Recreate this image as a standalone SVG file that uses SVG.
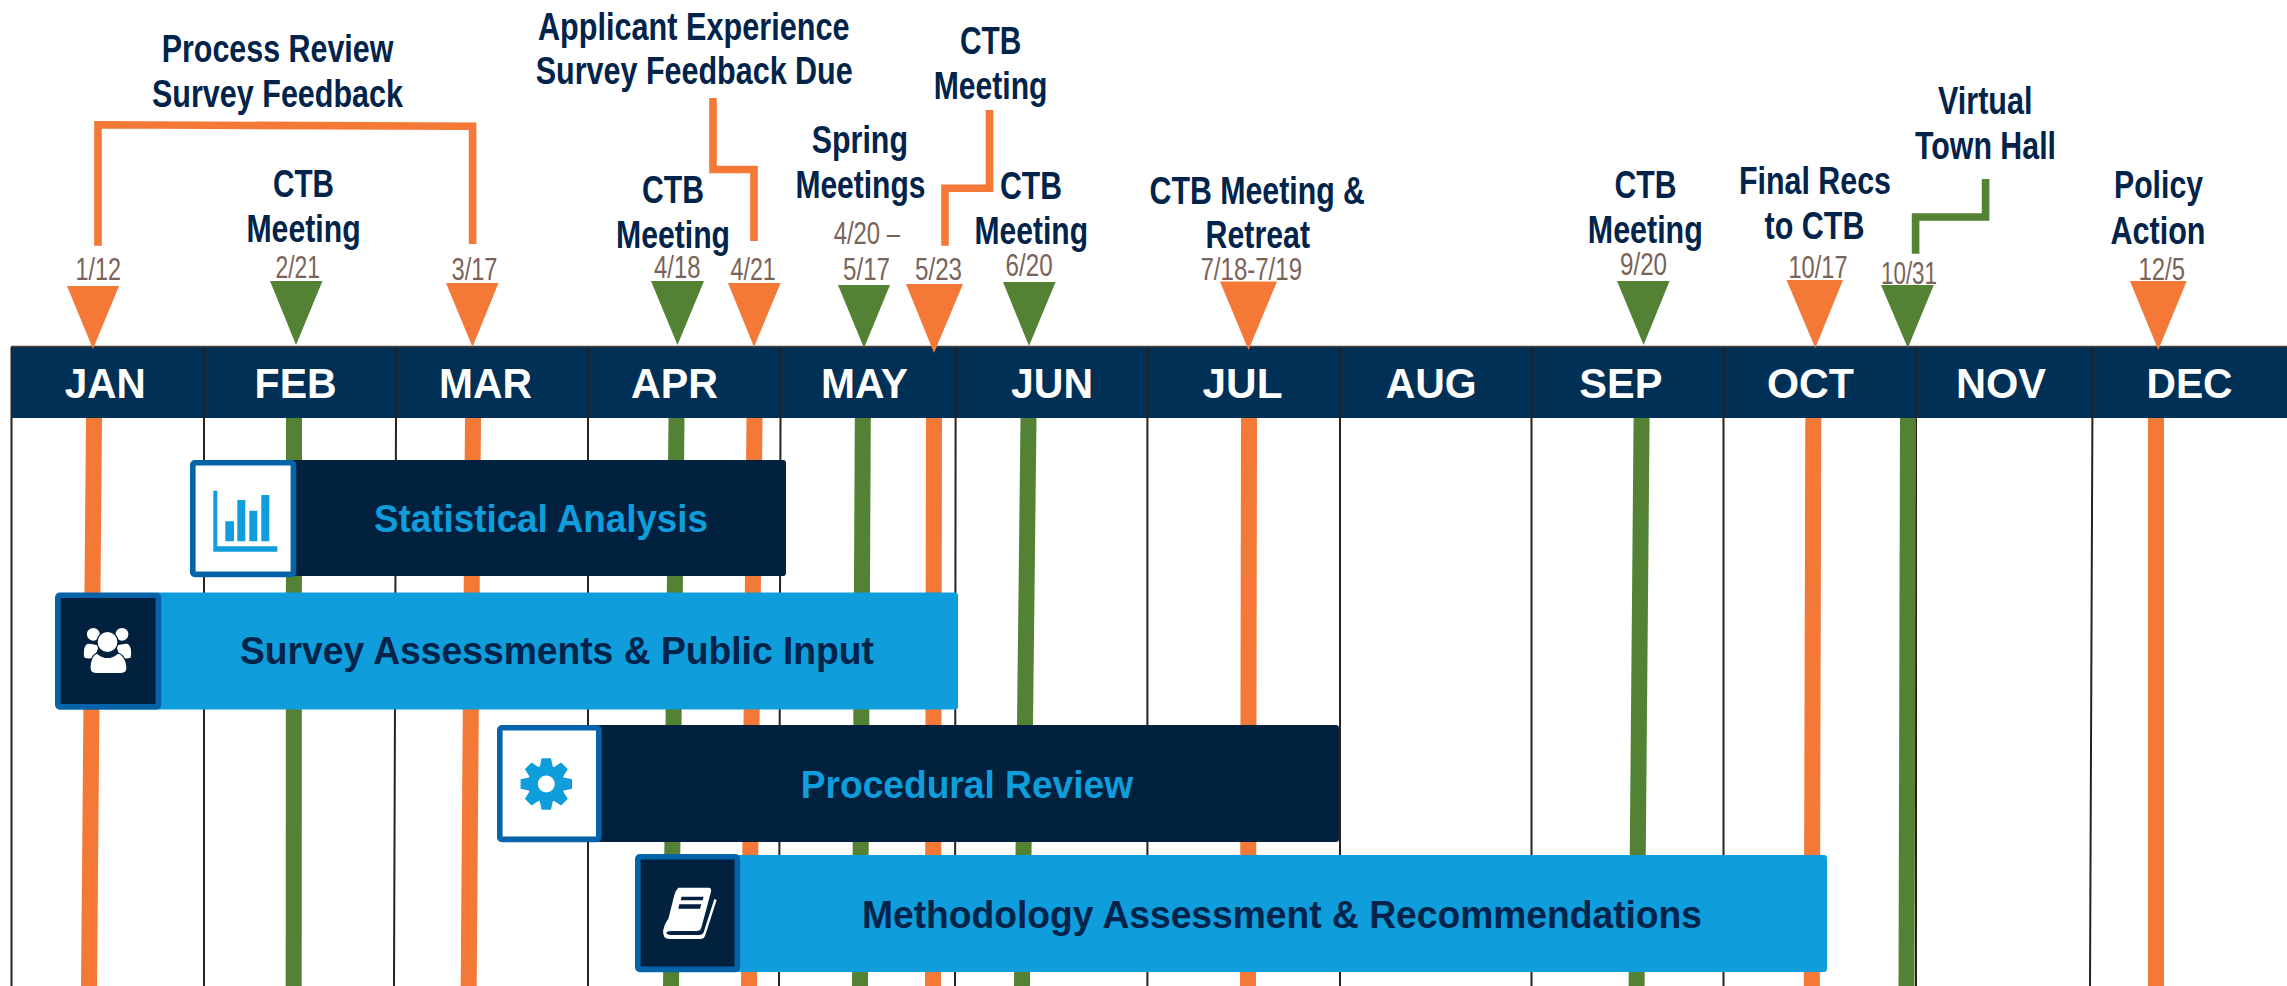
<svg xmlns="http://www.w3.org/2000/svg" xmlns:xlink="http://www.w3.org/1999/xlink" width="2287" height="986" viewBox="0 0 2287 986">
<style>
text{font-family:"Liberation Sans",Arial,sans-serif}
.lab{font-size:39px;font-weight:700;fill:#02234a;transform:translateY(1px)}
.date{font-size:31px;fill:#7a6358;transform:translateY(1px)}
.mon{font-size:43px;font-weight:700;fill:#fff}
.bt{font-size:38px;font-weight:700;transform:translateY(1px)}
.grid{stroke:#2b2118;stroke-width:2;fill:none}
.o{fill:#f47836}.g{fill:#548235}
.ob{stroke:#f47836;stroke-width:16;fill:none}.gb{stroke:#548235;stroke-width:16;fill:none}
.ol{stroke:#f47836;stroke-width:7.6;fill:none}.gl{stroke:#548235;stroke-width:7.6;fill:none}
.dark{fill:#02213f}.blue{fill:#0f9ddb}
.frame{stroke:#0563a9;stroke-width:5.6}
</style>
<defs>
<path id="tooth" d="M-4.7-25.7H4.7L7-15H-7Z" fill="#0f9ddb"/>
</defs>
<rect width="2287" height="986" fill="#fff"/>
<g id="grid">
<path class="grid" d="M11.5 347V986M204 418V986M396 418L394 986M588 418V986M780.5 418L779 986M955.6 418L955 986M1147.4 418V986M1340 418V986M1531.5 418V986M1723.5 418V986M1916 418V986M2092.4 418L2090 986"/>
</g>
<g id="connectors">
<path class="ob" d="M94 418L89 986"/>
<path class="gb" d="M294 418L293.7 986"/>
<path class="ob" d="M473 418L468.7 986"/>
<path class="gb" d="M676.5 418L671 986"/>
<path class="ob" d="M754.5 418L749 986"/>
<path class="gb" d="M862.8 418L860 986"/>
<path class="ob" d="M934 418L933 986"/>
<path class="gb" d="M1028.5 418L1022 986"/>
<path class="ob" d="M1249 418L1248 986"/>
<path class="gb" d="M1641.6 418L1636.6 986"/>
<path class="ob" d="M1813.3 418L1811.8 986"/>
<path class="gb" d="M1908 418L1906.5 986"/>
<path class="ob" d="M2156 418V986"/>
<path class="ol" d="M98 245.7V124.8L472.6 126.3V244"/>
<path class="ol" d="M713 98V169.5H754V241"/>
<path class="ol" d="M989.5 110V188.2H945V245.7"/>
<path class="gl" d="M1985.6 179V217H1915.6V253.7"/>
</g>
<g id="header">
<rect x="11" y="347" width="2276" height="71" fill="#003056"/>
<path d="M11 346.5H2287" stroke="#4a4038" stroke-width="1.5"/>
<path class="grid" d="M204 347V418M396 347V418M588 347V418M780.5 347V418M955.6 347V418M1147.4 347V418M1340 347V418M1531.5 347V418M1723.5 347V418M1916 347V418M2092.4 347V418"/>
<text class="mon" x="64.8" y="398" textLength="81" lengthAdjust="spacingAndGlyphs">JAN</text>
<text class="mon" x="254.6" y="398" textLength="82" lengthAdjust="spacingAndGlyphs">FEB</text>
<text class="mon" x="439" y="398" textLength="93" lengthAdjust="spacingAndGlyphs">MAR</text>
<text class="mon" x="631" y="398" textLength="87" lengthAdjust="spacingAndGlyphs">APR</text>
<text class="mon" x="821" y="398" textLength="87" lengthAdjust="spacingAndGlyphs">MAY</text>
<text class="mon" x="1011" y="398" textLength="82" lengthAdjust="spacingAndGlyphs">JUN</text>
<text class="mon" x="1202.5" y="398" textLength="80" lengthAdjust="spacingAndGlyphs">JUL</text>
<text class="mon" x="1385.7" y="398" textLength="91" lengthAdjust="spacingAndGlyphs">AUG</text>
<text class="mon" x="1579.3" y="398" textLength="83" lengthAdjust="spacingAndGlyphs">SEP</text>
<text class="mon" x="1767" y="398" textLength="87" lengthAdjust="spacingAndGlyphs">OCT</text>
<text class="mon" x="1956" y="398" textLength="90" lengthAdjust="spacingAndGlyphs">NOV</text>
<text class="mon" x="2146.5" y="398" textLength="86" lengthAdjust="spacingAndGlyphs">DEC</text>
</g>
<g id="m-0112"><polygon class="o" points="67,286 119,286 93,349"/><text class="date" x="75.5" y="279" textLength="45.5" lengthAdjust="spacingAndGlyphs">1/12</text></g>
<g id="m-process"><text class="lab" x="161.7" y="61" textLength="231.7" lengthAdjust="spacingAndGlyphs">Process Review</text><text class="lab" x="152" y="106" textLength="251" lengthAdjust="spacingAndGlyphs">Survey Feedback</text></g>
<g id="m-0221"><polygon class="g" points="270,281 322.5,281 296,345"/><text class="date" x="275.5" y="276.7" textLength="44.5" lengthAdjust="spacingAndGlyphs">2/21</text><text class="lab" x="273" y="195.7" textLength="61" lengthAdjust="spacingAndGlyphs">CTB</text><text class="lab" x="246.4" y="240.7" textLength="114.3" lengthAdjust="spacingAndGlyphs">Meeting</text></g>
<g id="m-0317"><polygon class="o" points="446,283 498.5,283 472.5,347"/><text class="date" x="451.5" y="278.7" textLength="46" lengthAdjust="spacingAndGlyphs">3/17</text></g>
<g id="m-0418"><polygon class="g" points="651,281 704,281 677.5,345"/><text class="date" x="654" y="276.7" textLength="46.5" lengthAdjust="spacingAndGlyphs">4/18</text><text class="lab" x="642" y="202" textLength="62" lengthAdjust="spacingAndGlyphs">CTB</text><text class="lab" x="616" y="247" textLength="114" lengthAdjust="spacingAndGlyphs">Meeting</text></g>
<g id="m-0421"><polygon class="o" points="728,283 780.6,283 754,347"/><text class="date" x="730.6" y="278.7" textLength="45" lengthAdjust="spacingAndGlyphs">4/21</text><text class="lab" x="538" y="39" textLength="311.5" lengthAdjust="spacingAndGlyphs">Applicant Experience</text><text class="lab" x="535.7" y="83" textLength="317" lengthAdjust="spacingAndGlyphs">Survey Feedback Due</text></g>
<g id="m-0517"><polygon class="g" points="838,285 890,285 864,348"/><text class="date" x="833.7" y="243" textLength="66.3" lengthAdjust="spacingAndGlyphs">4/20 –</text><text class="date" x="843" y="278.7" textLength="47" lengthAdjust="spacingAndGlyphs">5/17</text><text class="lab" x="811.7" y="152" textLength="96.3" lengthAdjust="spacingAndGlyphs">Spring</text><text class="lab" x="795.4" y="197" textLength="130" lengthAdjust="spacingAndGlyphs">Meetings</text></g>
<g id="m-0523"><polygon class="o" points="906,284 963,284 934,353"/><text class="date" x="915" y="279.3" textLength="47" lengthAdjust="spacingAndGlyphs">5/23</text><text class="lab" x="960" y="53" textLength="61.4" lengthAdjust="spacingAndGlyphs">CTB</text><text class="lab" x="933.7" y="98" textLength="113.8" lengthAdjust="spacingAndGlyphs">Meeting</text></g>
<g id="m-0620"><polygon class="g" points="1003,282 1055.6,282 1029,346"/><text class="date" x="1005.6" y="275" textLength="47" lengthAdjust="spacingAndGlyphs">6/20</text><text class="lab" x="1000" y="198" textLength="62" lengthAdjust="spacingAndGlyphs">CTB</text><text class="lab" x="974.5" y="243" textLength="113.5" lengthAdjust="spacingAndGlyphs">Meeting</text></g>
<g id="m-0718"><polygon class="o" points="1220,281.5 1277,281.5 1248.5,350"/><text class="date" x="1200.5" y="278.7" textLength="101.5" lengthAdjust="spacingAndGlyphs">7/18-7/19</text><text class="lab" x="1149.5" y="203" textLength="215.5" lengthAdjust="spacingAndGlyphs">CTB Meeting &amp;</text><text class="lab" x="1205.6" y="247" textLength="104.4" lengthAdjust="spacingAndGlyphs">Retreat</text></g>
<g id="m-0920"><polygon class="g" points="1617,281 1669.6,281 1643.6,345"/><text class="date" x="1620" y="274" textLength="47" lengthAdjust="spacingAndGlyphs">9/20</text><text class="lab" x="1614.5" y="197" textLength="62" lengthAdjust="spacingAndGlyphs">CTB</text><text class="lab" x="1587.8" y="242" textLength="115" lengthAdjust="spacingAndGlyphs">Meeting</text></g>
<g id="m-1017"><polygon class="o" points="1786.5,280 1843,280 1815.3,348"/><text class="date" x="1788.5" y="277" textLength="59" lengthAdjust="spacingAndGlyphs">10/17</text><text class="lab" x="1739" y="193" textLength="152" lengthAdjust="spacingAndGlyphs">Final Recs</text><text class="lab" x="1764.5" y="238" textLength="100" lengthAdjust="spacingAndGlyphs">to CTB</text></g>
<g id="m-1031"><polygon class="g" points="1881,285 1933.8,285 1907.8,348"/><text class="date" x="1881" y="282.7" textLength="56" lengthAdjust="spacingAndGlyphs">10/31</text><text class="lab" x="1938" y="112.7" textLength="94.5" lengthAdjust="spacingAndGlyphs">Virtual</text><text class="lab" x="1915" y="157.7" textLength="141" lengthAdjust="spacingAndGlyphs">Town Hall</text></g>
<g id="m-1205"><polygon class="o" points="2130,281 2186.8,281 2158.3,350"/><text class="date" x="2138.5" y="278.7" textLength="46.5" lengthAdjust="spacingAndGlyphs">12/5</text><text class="lab" x="2114" y="197" textLength="89" lengthAdjust="spacingAndGlyphs">Policy</text><text class="lab" x="2110.5" y="242.6" textLength="95" lengthAdjust="spacingAndGlyphs">Action</text></g>

<g id="bar-statistical">
<rect class="dark" x="290" y="460" width="496" height="116" rx="3"/>
<rect class="frame" x="192.8" y="462.8" width="100.6" height="111.6" rx="2" fill="#fff"/>
<path class="blue" d="M213.3 490.7h4v55.6h60v5.4h-64zM225.3 521.3h8.7v20h-8.7zM237.3 500h8v41.3h-8zM249.3 510.7h8v30.6h-8zM261.3 495h8v46.3h-8z"/>
<text class="bt blue" x="374" y="531" textLength="334" lengthAdjust="spacingAndGlyphs">Statistical Analysis</text>
</g>
<g id="bar-survey">
<rect class="blue" x="155" y="592.5" width="803" height="117" rx="3"/>
<rect class="frame dark" x="57.8" y="595.3" width="100.6" height="111.6" rx="2"/>
<g fill="#fff" stroke="#02213f" stroke-width="1.2">
<circle cx="93.3" cy="634.3" r="7"/><circle cx="122" cy="634.3" r="7"/>
<path d="M88 643C82 645 83 656 84 658Q88 660 95 658L100 645ZM127 643C133 645 132 656 131 658Q127 660 120 658L115 645Z"/>
<path d="M97 653Q107.5 662 118 653C124 655 127 662 127 668Q127 673.5 121 673.5H96Q90 673.5 90 668C90 662 92 655 97 653Z"/>
<circle cx="107.5" cy="642" r="10.5"/>
</g>
<text class="bt" fill="#02234a" x="240" y="663" textLength="634" lengthAdjust="spacingAndGlyphs">Survey Assessments &amp; Public Input</text>
</g>
<g id="bar-procedural">
<rect class="dark" x="596" y="725" width="743" height="117" rx="3"/>
<rect class="frame" x="499.8" y="727.8" width="99" height="111.6" rx="2" fill="#fff"/>
<g transform="translate(546.3 784)">
<use xlink:href="#tooth" href="#tooth"/>
<use xlink:href="#tooth" href="#tooth" transform="rotate(45)"/>
<use xlink:href="#tooth" href="#tooth" transform="rotate(90)"/>
<use xlink:href="#tooth" href="#tooth" transform="rotate(135)"/>
<use xlink:href="#tooth" href="#tooth" transform="rotate(180)"/>
<use xlink:href="#tooth" href="#tooth" transform="rotate(225)"/>
<use xlink:href="#tooth" href="#tooth" transform="rotate(270)"/>
<use xlink:href="#tooth" href="#tooth" transform="rotate(315)"/>
<circle r="13.5" fill="none" stroke="#0f9ddb" stroke-width="10"/>
</g>
<text class="bt blue" x="800.7" y="797" textLength="332.5" lengthAdjust="spacingAndGlyphs">Procedural Review</text>
</g>
<g id="bar-methodology">
<rect class="blue" x="735" y="855" width="1092" height="117" rx="3"/>
<rect class="frame dark" x="637.8" y="856.8" width="99.6" height="112.6" rx="2"/>
<g transform="translate(625 845) scale(.3333)" fill="#fff">
<path d="M160 128H250Q261 128 258 140L229 248Q226 258 215 258H140Q127 258 118 264C112 250 122 232 130 222L148 150Q150 138 160 128Z"/>
<path d="M115 252Q110 282 135 282H225Q238 282 241 270L275 165L268 162L236 262Q233 270 222 270H135Q122 270 124 256Z"/>
<path fill="#02213f" d="M170 155H236L233 166H167ZM163 178H229L225 191H160Z"/>
</g>
<text class="bt" fill="#02234a" x="862" y="927" textLength="840" lengthAdjust="spacingAndGlyphs">Methodology Assessment &amp; Recommendations</text>
</g>
</svg>
